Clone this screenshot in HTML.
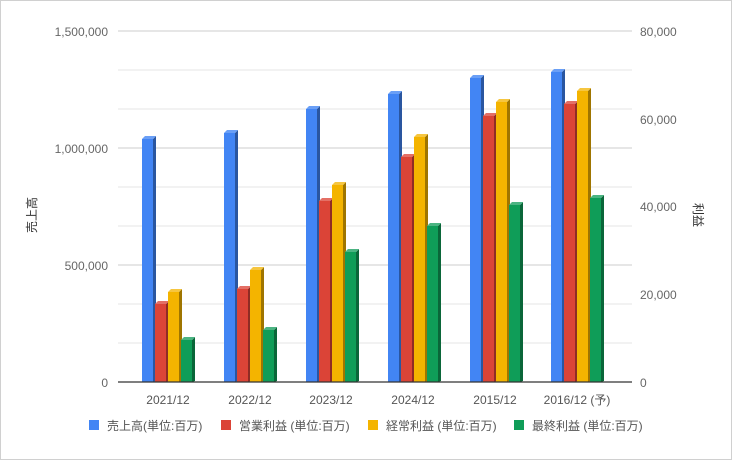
<!DOCTYPE html>
<html><head><meta charset="utf-8"><style>
body{margin:0;background:#fff;}
svg{display:block;font-family:"Liberation Sans","Noto Sans CJK JP",sans-serif;}
</style></head><body>
<svg id="s" width="732" height="460" viewBox="0 0 732 460">
<rect x="0.5" y="0.5" width="731" height="459" fill="#fff" stroke="#d0d0d0"/>
<g id="grid"></g>
<g id="bars"></g>
<line x1="118" y1="382" x2="632" y2="382" stroke="#333" stroke-width="1.3"/>
<g font-size="12" fill="#666" text-anchor="end">
<text x="108" y="36">1,500,000</text>
<text x="108" y="153">1,000,000</text>
<text x="108" y="270">500,000</text>
<text x="108" y="387">0</text>
</g>
<g font-size="12" fill="#666">
<text x="640" y="36">80,000</text>
<text x="640" y="124">60,000</text>
<text x="640" y="211">40,000</text>
<text x="640" y="299">20,000</text>
<text x="640" y="387">0</text>
</g>
<g font-size="12" fill="#555" text-anchor="middle">
<text x="168" y="404">2021/12</text>
<text x="250" y="404">2022/12</text>
<text x="331" y="404">2023/12</text>
<text x="413" y="404">2024/12</text>
<text x="495" y="404">2015/12</text>
<text x="577" y="404">2016/12 (予)</text>
</g>
<text transform="translate(36,215) rotate(-90)" font-size="12" fill="#333" text-anchor="middle">売上高</text>
<text transform="translate(694,215) rotate(90)" font-size="12" fill="#333" text-anchor="middle">利益</text>
<g font-size="12" fill="#555">
<rect x="89" y="420" width="10" height="10" fill="#4285f4"/><text x="107" y="430">売上高(単位:百万)</text>
<rect x="221" y="420" width="10" height="10" fill="#db4437"/><text x="239" y="430">営業利益 (単位:百万)</text>
<rect x="368" y="420" width="10" height="10" fill="#f4b400"/><text x="386" y="430">経常利益 (単位:百万)</text>
<rect x="514" y="420" width="10" height="10" fill="#0f9d58"/><text x="532" y="430">最終利益 (単位:百万)</text>
</g>
</svg>
<script>
var ns="http://www.w3.org/2000/svg";
function el(p,t,a){var e=document.createElementNS(ns,t);for(var k in a)e.setAttribute(k,a[k]);p.appendChild(e);return e;}
var g=document.getElementById("grid");
for(var k=0;k<9;k++){var y=31+39*k;el(g,"line",{x1:118,x2:632,y1:y,y2:y,stroke:(k%3==0?"#ccc":"#e4e4e4"),"stroke-width":1});}
var b=document.getElementById("bars");
var cols=[["#4285f4","#2a56a0","#6a9ff6"],["#db4437","#8f2c24","#e46f65"],["#f4b400","#9f7500","#f6c640"],["#0f9d58","#0a6639","#4bb482"]];
var tops=[[137,302,290,338],[131,287,268,328],[107,199,183,250],[92,155,135,224],[76,114,100,203],[70,102,89,196]];
var gx=[142,224,306,388,470,551];
for(var i=0;i<6;i++)for(var j=0;j<4;j++){
 var x=gx[i]+j*13,t=tops[i][j]+2,c=cols[j];
 el(b,"polygon",{points:(x+11)+","+t+" "+(x+14)+","+(t-3)+" "+(x+14)+",381 "+(x+11)+",382",fill:c[1]});
 el(b,"polygon",{points:x+","+t+" "+(x+3)+","+(t-3)+" "+(x+14)+","+(t-3)+" "+(x+11)+","+t,fill:c[2]});
 el(b,"rect",{x:x,y:t,width:11,height:382-t,fill:c[0]});
}
</script>
</body></html>
